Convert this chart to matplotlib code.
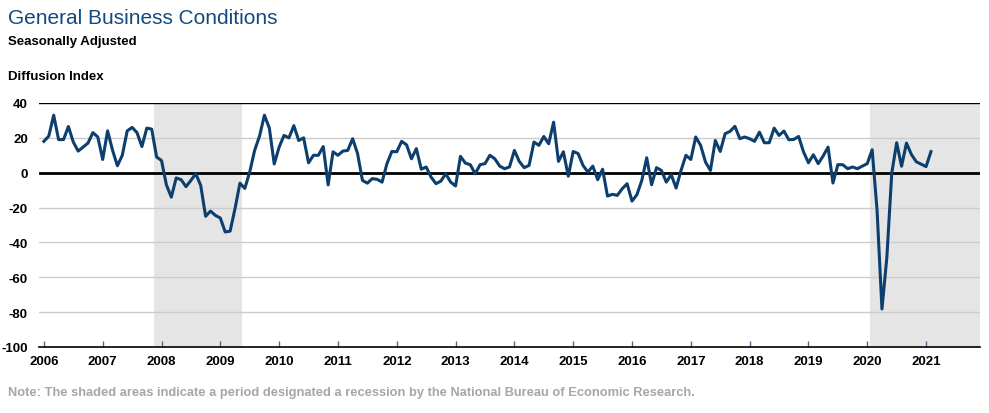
import matplotlib
matplotlib.use("Agg")
import matplotlib.pyplot as plt
from matplotlib import font_manager
import numpy as np

# ---- data ----
start_year = 2006
values_2006 = [18, 21, 33, 19, 19, 26.5, 17.6, 12.4, 14.7, 17, 23, 20.5]
values_2007 = [7.6, 24, 13, 4, 10, 24, 26, 23, 15, 25.6, 25, 9]
values_2008 = [7, -7, -14, -3, -4, -8, -4.4, -0.6, -7.3, -25, -22, -24.5]
values_2009 = [-26, -34, -33.5, -20.6, -6, -9, 0.4, 12.8, 21, 33, 25.6, 5]
values_2010 = [14.7, 21.4, 20, 27, 18.5, 20, 5.7, 10, 10, 15, -7, 12]
values_2011 = [10, 12.4, 12.8, 19.5, 11, -4.4, -6, -3.4, -3.8, -5.4, 5.2, 12.2]
values_2012 = [12, 18, 16, 8, 13.8, 2, 3.3, -2.5, -6.3, -4.8, -0.6, -5.4]
values_2013 = [-7.6, 9.4, 5.5, 4.6, -0.6, 4.6, 5.2, 10, 8, 3.8, 2.3, 3.3]
values_2014 = [12.8, 6.5, 2.9, 4.2, 17.6, 15.7, 20.8, 16.6, 29, 6.5, 12, -2]
values_2015 = [12.2, 11, 4.2, 0.4, 3.8, -4, 2, -13.4, -12.4, -13, -9.2, -6.3]
values_2016 = [-16.3, -12.6, -4.4, 8.6, -6.9, 2.9, 1.3, -5.4, -1.1, -8.8, 1.3, 10]
values_2017 = [7.6, 20.5, 15.7, 6.1, 1.3, 18.5, 12.2, 22.4, 23.7, 26.6, 19.5, 20.5]
values_2018 = [19.5, 18, 23.3, 17.2, 17.2, 25.6, 21.4, 23.9, 18.9, 19.1, 20.8, 11.9]
values_2019 = [5.7, 10.3, 5.2, 9.6, 14.7, -5.9, 4.6, 4.6, 2.3, 3.3, 2.3, 3.8]
values_2020 = [5.2, 13.2, -21.5, -78.2, -48.5, -0.2, 17.2, 3.7, 17, 10.5, 6.3, 4.9]
values_2021 = [3.5, 12.1]

recessions = [(2007.875, 2009.375), (2020.042, 2021.917)]
year_ticks = list(range(2006, 2022))
y_ticks = [40, 20, 0, -20, -40, -60, -80, -100]

title = "General Business Conditions"
subtitle = "Seasonally Adjusted"
ylabel = "Diffusion Index"
note = "Note: The shaded areas indicate a period designated a recession by the National Bureau of Economic Research."

values = (values_2006 + values_2007 + values_2008 + values_2009 + values_2010 +
          values_2011 + values_2012 + values_2013 + values_2014 + values_2015 +
          values_2016 + values_2017 + values_2018 + values_2019 + values_2020 +
          values_2021)
dates = start_year + np.arange(len(values)) / 12.0

# ---- fonts ----
available = {f.name for f in font_manager.fontManager.ttflist}
fam = ["Liberation Sans Narrow", "DejaVu Sans"] if "Liberation Sans Narrow" in available else ["Liberation Sans", "DejaVu Sans"]
plt.rcParams["font.family"] = fam

W, H = 989, 414
fig = plt.figure(figsize=(W / 100, H / 100), dpi=100)
ax = fig.add_axes([39 / W, 1 - 348 / H, (980 - 39) / W, (348 - 104) / H])

for a, b in recessions:
    ax.axvspan(a, b, color="#e5e5e5", lw=0, zorder=0)

for y in [20, -20, -40, -60, -80]:
    ax.axhline(y, color="#cccccc", lw=1.0, zorder=1)
ax.axhline(40, color="black", lw=1.0, zorder=2)
ax.axhline(0, color="black", lw=2.0, zorder=2)

ax.plot(dates, values, color="#0c3f6d", lw=2.2, zorder=3, solid_joinstyle="round")

ax.set_xlim(2005.917, 2021.917)
ax.set_ylim(-100, 40)
ax.set_yticks(y_ticks)
ax.set_yticklabels([str(v) for v in y_ticks])
ax.set_xticks(year_ticks)
ax.set_xticklabels([str(v) for v in year_ticks])

for s in ["top", "left", "right"]:
    ax.spines[s].set_visible(False)
ax.spines["bottom"].set_color("black")
ax.spines["bottom"].set_linewidth(1.2)

ax.tick_params(axis="y", length=0, pad=8, labelsize=9.5)
ax.tick_params(axis="x", direction="in", length=4, width=1, color="#4a6a90",
               pad=6, labelsize=9.5)
for lbl in ax.get_xticklabels() + ax.get_yticklabels():
    lbl.set_fontweight("bold")

fig.text(8 / W, 1 - 19 / H, title, color="#124a80", fontsize=15, va="center", ha="left")
fig.text(8 / W, 1 - 42 / H, subtitle, color="black", fontsize=9.5, fontweight="bold", va="center", ha="left")
fig.text(8 / W, 1 - 77 / H, ylabel, color="black", fontsize=9.5, fontweight="bold", va="center", ha="left")
fig.text(8 / W, 1 - 393 / H, note, color="#a6a6a6", fontsize=9.3, fontweight="bold", va="center", ha="left")

fig.savefig("out.png", dpi=100)
